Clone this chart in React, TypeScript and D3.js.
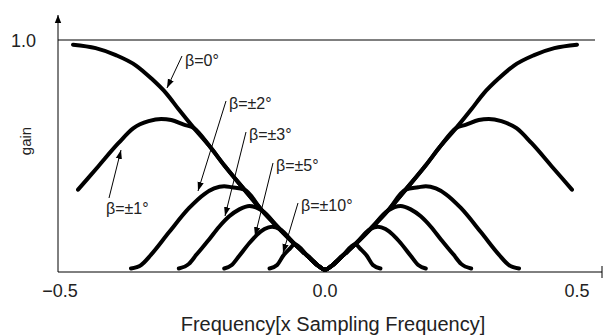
import { useEffect } from 'react';
import * as d3 from 'd3';

type Pt = [number, number];

// axis labels
const xTicks = [-0.5, 0, 0.5];
const xTickLabels = ['−0.5', '0.0', '0.5'];
const yTicks = [1.0];
const yTickLabels = ['1.0'];
const xTitle = 'Frequency[x Sampling Frequency]';
const yTitle = 'gain';

// beta = 0 : full V shaped response [frequency, gain]
const betaZero: Pt[] = [
  [-0.5, 0.98], [-0.455, 0.965], [-0.415, 0.935], [-0.375, 0.89], [-0.345, 0.835],
  [-0.315, 0.77], [-0.29, 0.7], [-0.26, 0.62], [-0.23, 0.545], [-0.2, 0.46],
  [-0.16, 0.355], [-0.125, 0.265], [-0.09, 0.185], [-0.06, 0.12], [-0.035, 0.07],
  [-0.015, 0.03], [0, 0.01],
  [0.015, 0.03], [0.035, 0.07], [0.06, 0.12], [0.09, 0.185], [0.125, 0.265],
  [0.16, 0.355], [0.2, 0.46], [0.23, 0.545], [0.26, 0.62], [0.29, 0.7],
  [0.315, 0.77], [0.345, 0.835], [0.375, 0.89], [0.415, 0.935], [0.455, 0.965], [0.5, 0.98],
];

// outer bumps of the other curves (the rest runs along betaZero)
const beta1Left: Pt[] = [[-0.49, 0.355], [-0.45, 0.455], [-0.41, 0.555], [-0.38, 0.62], [-0.35, 0.65], [-0.325, 0.66], [-0.305, 0.655], [-0.28, 0.635]];
const beta1Right: Pt[] = [[0.28, 0.635], [0.305, 0.655], [0.325, 0.66], [0.35, 0.65], [0.38, 0.62], [0.41, 0.555], [0.45, 0.455], [0.49, 0.355]];

const beta2Left: Pt[] = [[-0.385, 0.015], [-0.365, 0.03], [-0.345, 0.075], [-0.31, 0.17], [-0.27, 0.275], [-0.24, 0.335], [-0.22, 0.36], [-0.2, 0.37], [-0.185, 0.365]];
const beta2Right: Pt[] = [[0.185, 0.365], [0.2, 0.37], [0.22, 0.36], [0.24, 0.335], [0.27, 0.275], [0.31, 0.17], [0.345, 0.075], [0.365, 0.03], [0.385, 0.015]];

const beta3Left: Pt[] = [[-0.29, 0.015], [-0.27, 0.035], [-0.255, 0.075], [-0.23, 0.14], [-0.21, 0.195], [-0.19, 0.24], [-0.17, 0.27], [-0.15, 0.285]];
const beta3Right: Pt[] = [[0.15, 0.285], [0.17, 0.27], [0.19, 0.24], [0.21, 0.195], [0.23, 0.14], [0.255, 0.075], [0.27, 0.035], [0.29, 0.015]];

const beta5Left: Pt[] = [[-0.2, 0.015], [-0.185, 0.03], [-0.17, 0.07], [-0.15, 0.125], [-0.135, 0.16], [-0.12, 0.185], [-0.105, 0.195]];
const beta5Right: Pt[] = [[0.105, 0.195], [0.12, 0.185], [0.135, 0.16], [0.15, 0.125], [0.17, 0.07], [0.185, 0.03], [0.2, 0.015]];

const beta10Left: Pt[] = [[-0.11, 0.015], [-0.095, 0.03], [-0.083, 0.07], [-0.07, 0.1]];
const beta10Right: Pt[] = [[0.07, 0.1], [0.083, 0.07], [0.095, 0.03], [0.11, 0.015]];

const betaLabels = ['β=0°', 'β=±1°', 'β=±2°', 'β=±3°', 'β=±5°', 'β=±10°'];

const font = '"Liberation Sans", Arial, sans-serif';

export default function App() {
  useEffect(() => {
    document.body.style.margin = '0';
  }, []);

  const width = 603;
  const height = 335;

  const x = d3.scaleLinear().domain([-0.5, 0.5]).range([73, 577]);
  const y = d3.scaleLinear().domain([0, 1]).range([272, 40]);
  const axisX = 58;
  const axisY = y(0);

  const line = d3.line<Pt>()
    .x(d => x(d[0]))
    .y(d => y(d[1]))
    .curve(d3.curveMonotoneX);

  const withV = (left: Pt[], right: Pt[]) => {
    const a = left[left.length - 1][0];
    const b = right[0][0];
    return [...left, ...betaZero.filter(p => p[0] > a && p[0] < b), ...right];
  };

  const curves = [
    betaZero,
    withV(beta1Left, beta1Right),
    withV(beta2Left, beta2Right),
    withV(beta3Left, beta3Right),
    withV(beta5Left, beta5Right),
    withV(beta10Left, beta10Right),
  ];

  // annotation placement: text (left, baseline) and arrow from -> to
  const notes = [
    { tx: 185, ty: 66, x1: 182, y1: 56, x2: 167, y2: 88 },
    { tx: 106, ty: 214, x1: 109, y1: 198, x2: 121, y2: 150 },
    { tx: 229, ty: 109, x1: 226, y1: 101, x2: 198, y2: 191 },
    { tx: 249, ty: 140, x1: 246, y1: 132, x2: 225, y2: 216 },
    { tx: 276, ty: 171, x1: 273, y1: 163, x2: 255, y2: 236 },
    { tx: 301, ty: 211, x1: 298, y1: 203, x2: 283, y2: 253 },
  ];

  return (
    <svg width={width} height={height} style={{ position: 'fixed', left: 0, top: 0, background: '#fff' }}>
      <defs>
        <marker id="ah" viewBox="0 0 10 10" refX="10" refY="5" markerWidth="9" markerHeight="9"
          markerUnits="userSpaceOnUse" orient="auto">
          <path d="M0,1.5 L10,5 L0,8.5 Z" fill="#000" />
        </marker>
        <marker id="axh" viewBox="0 0 10 10" refX="10" refY="5" markerWidth="8" markerHeight="8"
          markerUnits="userSpaceOnUse" orient="auto">
          <path d="M0,1 L10,5 L0,9 Z" fill="#000" />
        </marker>
      </defs>

      {/* reference line at 1.0 */}
      <line x1={axisX} x2={595} y1={y(1)} y2={y(1)} stroke="#000" strokeWidth={1} />

      {/* axes */}
      <line x1={axisX} x2={axisX} y1={axisY} y2={15} stroke="#000" strokeWidth={1} markerEnd="url(#axh)" />
      <line x1={axisX} x2={602} y1={axisY} y2={axisY} stroke="#000" strokeWidth={1} />
      <line x1={602} x2={602} y1={axisY - 6} y2={axisY + 6} stroke="#000" strokeWidth={1} />

      {xTicks.map((t, i) => (
        <text key={t} x={x(t) + (t < 0 ? -13 : 0)} y={297} textAnchor="middle"
          fontFamily={font} fontSize={18} fill="#222">{xTickLabels[i]}</text>
      ))}
      {yTicks.map((t, i) => (
        <text key={t} x={36} y={y(t) + 7} textAnchor="end"
          fontFamily={font} fontSize={18} fill="#222">{yTickLabels[i]}</text>
      ))}

      <text x={333} y={331} textAnchor="middle" fontFamily={font} fontSize={20} fill="#222">{xTitle}</text>
      <text transform="translate(31,141) rotate(-90)" textAnchor="middle" fontFamily={font} fontSize={15} fill="#222">{yTitle}</text>

      {curves.map((c, i) => (
        <path key={i} d={line(c) ?? ''} fill="none" stroke="#000" strokeWidth={4}
          strokeLinecap="round" strokeLinejoin="round" />
      ))}

      {notes.map((n, i) => (
        <g key={i}>
          <line x1={n.x1} y1={n.y1} x2={n.x2} y2={n.y2} stroke="#000" strokeWidth={1} markerEnd="url(#ah)" />
          <text x={n.tx} y={n.ty} fontFamily={font} fontSize={16} fill="#222">{betaLabels[i]}</text>
        </g>
      ))}
    </svg>
  );
}
